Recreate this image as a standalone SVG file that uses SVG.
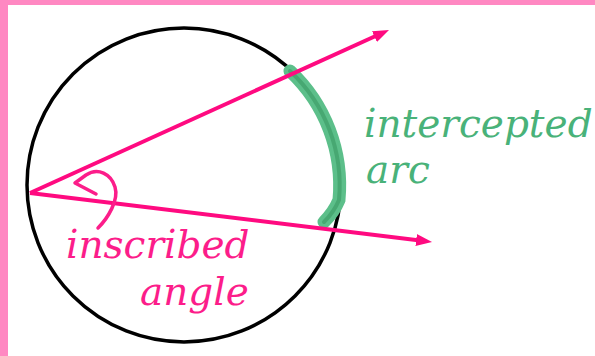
<svg xmlns="http://www.w3.org/2000/svg" width="595" height="356" viewBox="0 0 595 356">
<style>
.border{fill:#ff88c2}
.ray{stroke:#ff0a80;stroke-width:4;fill:none}
.lbl{font-family:"DejaVu Serif","Liberation Serif",serif;font-style:italic;font-size:39px}
.pink{fill:#fc1d8a}
.green{fill:#49b279}
</style>
<defs>
<marker id="ah" markerUnits="userSpaceOnUse" markerWidth="16" markerHeight="12" refX="8" refY="6" orient="auto">
<path d="M0,0 L16,6 L0,12 z" fill="#ff0a80"/>
</marker>
</defs>
<rect width="595" height="356" fill="#ffffff"/>
<rect class="border" x="0" y="0" width="595" height="5"/>
<rect class="border" x="0" y="0" width="8" height="356"/>
<g id="circle">
<circle cx="184" cy="185" r="157" fill="none" stroke="#000" stroke-width="3.5"/>
</g>
<g id="arc">
<path d="M 290 71 A 157 157 0 0 1 339 200 Q 334 212 324 222" fill="none" stroke="#5cbf8a" stroke-width="13" stroke-linecap="round"/>
<path d="M 290 71 A 157 157 0 0 1 339 200 Q 334 212 324 222" fill="none" stroke="#3f9e68" stroke-width="4" stroke-linecap="round" opacity="0.7"/>
</g>
<g id="connectors">
<line class="ray" x1="30" y1="193" x2="381.7" y2="33.3" marker-end="url(#ah)"/>
<line class="ray" x1="30" y1="193" x2="424.1" y2="241" marker-end="url(#ah)"/>
<path d="M 98 228 C 108 218, 119 200, 115 187 C 111 174, 98 167, 86 175 L 75 183 L 96 194" fill="none" stroke="#fc1d8a" stroke-width="3.5" stroke-linecap="round" stroke-linejoin="round"/>
</g>
<g id="inscribed-label">
<text class="lbl pink" x="66" y="258">inscribed</text>
<text class="lbl pink" x="140" y="305">angle</text>
</g>
<g id="arc-label">
<text class="lbl green" x="364" y="137">intercepted</text>
<text class="lbl green" x="366" y="183">arc</text>
</g>
</svg>
